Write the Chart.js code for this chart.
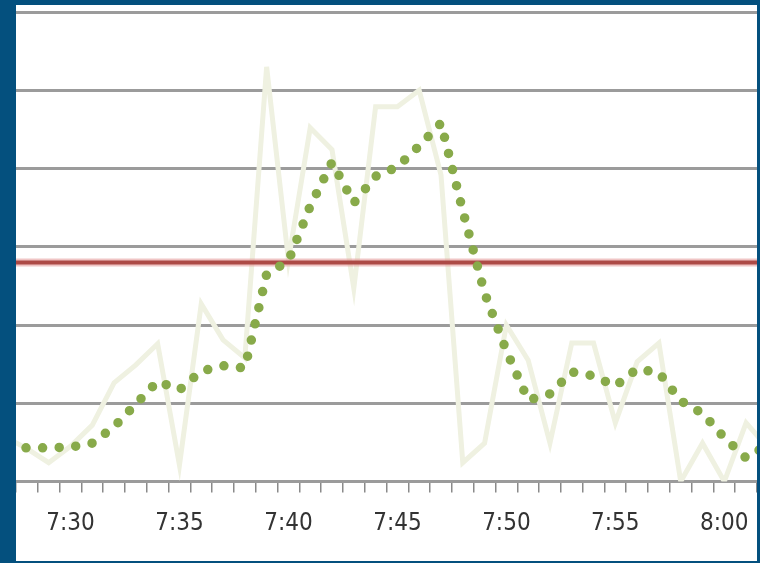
<!DOCTYPE html>
<html>
<head>
<meta charset="utf-8">
<script src="https://cdn.jsdelivr.net/npm/chart.js@4.4.1/dist/chart.umd.min.js"></script>
<style>
  html, body { margin: 0; padding: 0; }
  body { width: 760px; height: 563px; background: #04507e; overflow: hidden; position: relative; }
  #frame { position: absolute; left: 16px; top: 5px; width: 741px; height: 556px; background: #fff; }
</style>
</head>
<body>
<div id="frame"><canvas id="speedChart"></canvas></div>
<script>
// one entry per minute, 7:27 and 8:02 sit just outside the visible range
const minutes = ['7:27', '7:28', '7:29', '7:30', '7:31', '7:32', '7:33', '7:34', '7:35',
  '7:36', '7:37', '7:38', '7:39', '7:40', '7:41', '7:42', '7:43', '7:44', '7:45', '7:46',
  '7:47', '7:48', '7:49', '7:50', '7:51', '7:52', '7:53', '7:54', '7:55', '7:56', '7:57',
  '7:58', '7:59', '8:00', '8:01', '8:02'];

const rawValues = [5.7, 4.2, 2.4, 4.5, 7.2, 12.6, 14.9, 17.6, 2.1,
  22.7, 18.1, 15.8, 53.0, 28.3, 45.2, 42.4, 24.7, 47.9, 47.9, 50.0,
  39.2, 2.4, 4.9, 20.0, 15.5, 4.9, 17.7, 17.7, 7.5, 15.3, 17.7,
  0.0, 4.9, 0.0, 7.5, 4.3];

const avgValues = [4.3, 4.3, 4.3, 4.4, 4.9, 7.0, 9.9, 12.8, 11.7,
  14.1, 14.8, 14.5, 26.5, 28.2, 35.2, 40.8, 35.6, 39.0, 40.2, 42.9,
  45.8, 34.6, 24.1, 16.7, 10.4, 11.2, 14.0, 13.5, 12.2, 14.4, 13.9,
  10.3, 8.7, 5.6, 3.0, 4.7];

const limitValue = 28;
const gridValues = [0, 10, 20, 30, 40, 50, 60];
const tickLabels = ['7:30', '7:35', '7:40', '7:45', '7:50', '7:55', '8:00'];

const toPoints = values => values.map((v, i) => ({ x: i, y: v }));

const labelFont = {
  family: '"Liberation Sans Narrow", "DejaVu Sans Condensed", "Roboto Condensed", Roboto, sans-serif',
  size: 24,
  lineHeight: 2.64
};

new Chart(document.getElementById('speedChart'), {
  type: 'line',
  data: {
    datasets: [
      {
        label: 'Average',
        data: toPoints(avgValues),
        borderColor: '#88aa4a',
        borderWidth: 9.5,
        borderDash: [0, 16.6],
        borderDashOffset: 12.3,
        borderCapStyle: 'round',
        borderJoinStyle: 'round',
        pointRadius: 0,
        tension: 0,
        clip: 0
      },
      {
        label: 'Limit',
        data: toPoints(minutes.map(() => limitValue)),
        borderColor: '#ad4a46',
        borderWidth: 4,
        pointRadius: 0
      },
      {
        label: 'Limit glow',
        data: toPoints(minutes.map(() => limitValue)),
        borderColor: 'rgba(228, 150, 150, 0.55)',
        borderWidth: 8,
        pointRadius: 0
      },
      {
        label: 'Raw',
        data: toPoints(rawValues),
        borderColor: '#eff1e1',
        borderWidth: 5,
        pointRadius: 0,
        tension: 0,
        clip: 0
      }
    ]
  },
  options: {
    animation: false,
    responsive: true,
    maintainAspectRatio: false,
    layout: { padding: 0 },
    plugins: {
      legend: { display: false },
      tooltip: { enabled: false }
    },
    scales: {
      x: {
        type: 'linear',
        min: 0.5,
        max: minutes.length - 1.5,
        afterBuildTicks: scale => {
          scale.ticks = minutes.slice(1).map((m, i) => ({ value: i + 0.5 }));
        },
        afterFit: scale => { scale.height = 79.5; },
        ticks: {
          autoSkip: false,
          maxRotation: 0,
          labelOffset: 10.9,
          padding: 0,
          color: '#333',
          font: labelFont,
          callback: v => {
            const m = minutes[v + 0.5];
            return tickLabels.includes(m) ? m : '';
          }
        },
        grid: {
          drawOnChartArea: false,
          drawTicks: true,
          tickLength: 11,
          color: '#8a8a8a',
          lineWidth: 1.5
        },
        border: { display: false }
      },
      y: {
        min: 0,
        max: 60.9,
        afterBuildTicks: scale => {
          scale.ticks = gridValues.map(v => ({ value: v }));
        },
        ticks: { display: false },
        grid: { color: '#9b9b9b', lineWidth: 3, drawTicks: false },
        border: { display: false }
      }
    }
  }
});
</script>
</body>
</html>
